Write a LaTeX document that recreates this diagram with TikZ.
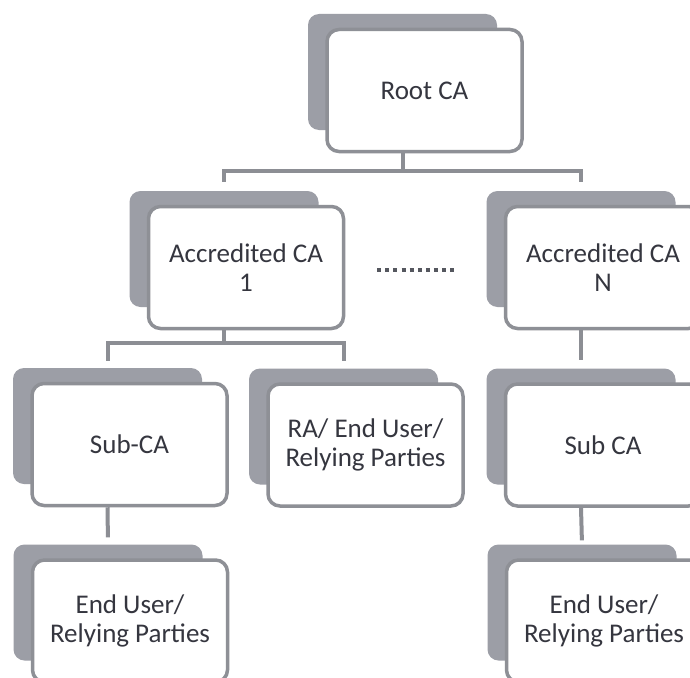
\documentclass[tikz,border=0pt]{standalone}
\usepackage{fontspec}
\setmainfont{Carlito}
\usetikzlibrary{calc}
\definecolor{shadowgray}{HTML}{9C9EA6}
\definecolor{bordergray}{HTML}{8E9096}
\definecolor{conngray}{HTML}{8C8E94}
\definecolor{txt}{HTML}{35363F}
\definecolor{dotgray}{HTML}{55575E}
\tikzset{
  front/.style={draw=bordergray, line width=3.5pt, fill=white, rounded corners=12pt,
    minimum width=195pt, minimum height=122pt, inner sep=0pt, align=center,
    text=txt, font=\fontsize{27}{29}\selectfont},
  back/.style={fill=shadowgray, rounded corners=11pt,
    minimum width=189pt, minimum height=116pt, inner sep=0pt},
  conn/.style={draw=conngray, line width=4pt, line join=miter},
  dots/.style={draw=dotgray, line width=4pt, dash pattern=on 4pt off 4.1pt}
}
\begin{document}
\begin{tikzpicture}[x=1pt,y=-1pt]
\clip (0,0) rectangle (690,677);
\fill[white] (0,0) rectangle (690,677);
% shadows
\node[back] (rootS) at (402.5,72) {};
\node[back] (acc1S) at (224,249) {};
\node[back] (accNS) at (581,249) {};
\node[back] (subS)  at (107.5,426) {};
\node[back] (raS)   at (343.5,426.5) {};
\node[back] (subNS) at (581,426.5) {};
\node[back] (endLS) at (108,602.5) {};
\node[back] (endRS) at (582,602.5) {};
% front boxes
\node[front] (root) at (424.5,90.5) {Root CA};
\node[front] (acc1) at (246,267.5) {Accredited CA\\1};
\node[front] (accN) at (603,267.5) {Accredited CA\\N};
\node[front] (sub)  at (129.5,444.5) {Sub-CA};
\node[front] (ra)   at (365.5,445) {RA/ End User/\\Relying Parties};
\node[front] (subN) at (603,445) {Sub CA};
\node[front] (endL) at (130,621) {End User/\\Relying Parties};
\node[front] (endR) at (604,621) {End User/\\Relying Parties};
% connectors
\coordinate (bar1) at ($(rootS.south)+(0,41)$);
\draw[conn] (rootS.south |- root.south) -- (bar1);
\draw[conn, shorten <=9pt, shorten >=9pt] (acc1S.north) |- (bar1) -| (accNS.north);
\coordinate (bar2) at ($(acc1S.south)+(0,36)$);
\draw[conn] (acc1S.south |- acc1.south) -- (bar2);
\draw[conn, shorten <=7pt, shorten >=7pt] (subS.north) |- (bar2) -| (raS.north);
\draw[conn, shorten >=8pt] (accNS.south |- accN.south) -- (subNS.north);
\draw[conn, shorten >=7pt] (subS.south |- sub.south) -- (endLS.north);
\draw[conn, shorten >=4pt] (subNS.south |- subN.south) -- (endRS.north);
% dotted ellipsis
\draw[dots] ($(acc1.east)+(32,2.5)$) -- ++(77,0);
\end{tikzpicture}
\end{document}
